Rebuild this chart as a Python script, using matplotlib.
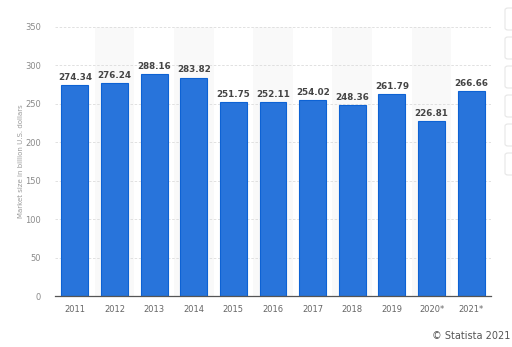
import matplotlib
matplotlib.use("Agg")
import matplotlib.pyplot as plt
from matplotlib.patches import FancyBboxPatch

years = ["2011", "2012", "2013", "2014", "2015", "2016", "2017", "2018", "2019", "2020*", "2021*"]
market_size = [274.34, 276.24, 288.16, 283.82, 251.75, 252.11, 254.02, 248.36, 261.79, 226.81, 266.66]
y_ticks = [0, 50, 100, 150, 200, 250, 300, 350]

W, H = 512, 347
fig = plt.figure(figsize=(W / 100, H / 100), dpi=100)
fig.patch.set_facecolor("white")
ax = fig.add_axes([55 / W, 1 - 296.3 / H, (491 - 55) / W, (296.3 - 26.5) / H])
ax.set_facecolor("white")

x = list(range(len(years)))

# alternating column shading
for i in x:
    if i % 2 == 1:
        ax.axvspan(i - 0.5, i + 0.5, color="#f9f9f9", zorder=0, lw=0)

# dashed grid
for t in y_ticks[1:]:
    ax.axhline(t, color="#dcdcdc", lw=0.6, ls=(0, (3, 2)), zorder=1)

bars = ax.bar(x, market_size, width=0.68, color="#2874db", edgecolor="#0d62d4",
              linewidth=0.8, zorder=2)
for xi, v in zip(x, market_size):
    ax.text(xi, v + 4, f"{v:.2f}", ha="center", va="bottom", fontsize=6.3,
            fontweight="bold", color="#444444", zorder=3)

ax.set_xlim(-0.5, len(years) - 0.5)
ax.set_ylim(0, 350)
ax.set_xticks(x)
ax.set_xticklabels(years, fontsize=6, color="#666666")
ax.set_yticks(y_ticks)
ax.set_yticklabels([str(t) for t in y_ticks], fontsize=6, color="#8a8a8a")
ax.tick_params(axis="both", length=0)
ax.tick_params(axis="y", pad=10)
ax.tick_params(axis="x", pad=6)
for s in ["top", "right", "left"]:
    ax.spines[s].set_visible(False)
ax.spines["bottom"].set_color("#555555")
ax.spines["bottom"].set_linewidth(0.9)
ax.spines["bottom"].set_zorder(4)

fig.text(21 / W, 1 - 161 / H, "Market size in billion U.S. dollars", rotation=90,
         ha="center", va="center", fontsize=5, color="#9a9a9a")
fig.text(510 / W, 1 - 336 / H, "\u00a9 Statista 2021", ha="right", va="center",
         fontsize=7, color="#555555")

# toolbar buttons along the right edge
for top in [8, 37, 66, 95, 124, 153]:
    fig.patches.append(FancyBboxPatch((505 / W, 1 - (top + 22) / H), 12 / W, 22 / H,
                                      boxstyle="round,pad=0,rounding_size=0.006",
                                      transform=fig.transFigure, facecolor="white",
                                      edgecolor="#e6e6e6", linewidth=0.8))

fig.savefig("out.png", dpi=100)
